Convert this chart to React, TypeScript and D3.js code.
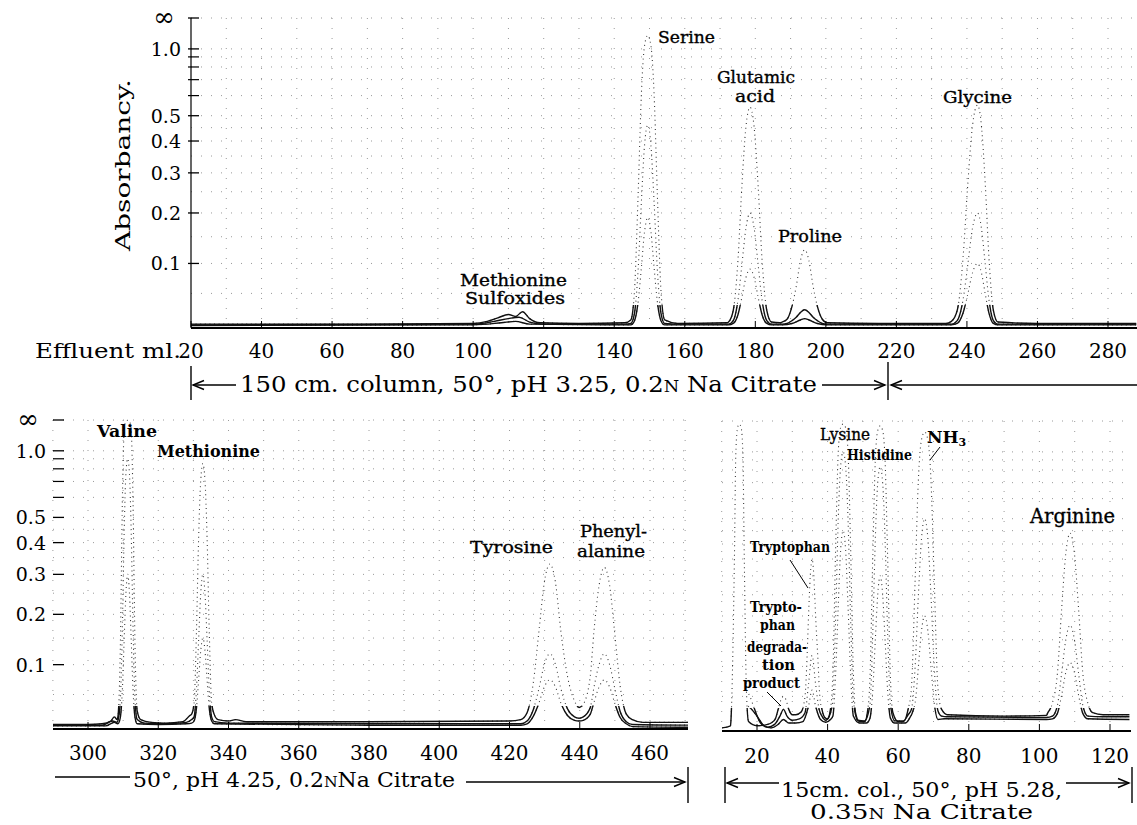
import React from 'react';
import * as d3 from 'd3';

type Pt = [number, number];

const FONT = '"DejaVu Serif", serif';

// effluent ml tick labels for each run
const topTicks = [20, 40, 60, 80, 100, 120, 140, 160, 180, 200, 220, 240, 260, 280];
const leftTicks = [300, 320, 340, 360, 380, 400, 420, 440, 460];
const rightTicks = [20, 40, 60, 80, 100, 120];

// absorbancy scale (recorder is linear in transmittance)
const absLabels = [1.0, 0.5, 0.4, 0.3, 0.2, 0.1];
const absMinor = [0.6, 0.7, 0.8, 0.9];
const absGrid = [0.05, 0.1, 0.15, 0.2, 0.25, 0.3, 0.35, 0.4, 0.45, 0.5, 0.6, 0.7, 0.8, 0.9, 1.0];

// 150 cm column, pH 3.25 -- three recorder traces, [ml, absorbancy]
const topHigh: Pt[] = [
  [20, 0.004], [60, 0.004], [100, 0.005], [104, 0.008], [107, 0.013], [110, 0.018], [112, 0.015], [114, 0.022],
  [116, 0.012], [119, 0.006], [130, 0.005], [143, 0.006],
  [144.7, 0.01], [145.75, 0.055], [146.8, 0.25], [147.7, 0.61], [148.6, 1.05], [149.5, 1.25], [150.4, 1.05],
  [151.3, 0.61], [152.2, 0.25], [153.25, 0.055], [154.3, 0.01], [158, 0.005], [172, 0.006],
  [172.4, 0.007], [173.75, 0.024], [175.1, 0.108], [176.2, 0.265], [177.35, 0.454], [178.5, 0.54], [179.65, 0.454],
  [180.8, 0.265], [181.9, 0.108], [183.25, 0.024], [184.6, 0.007], [187, 0.006],
  [187.6, 0.007], [189, 0.011], [190.4, 0.03], [191.6, 0.061], [192.8, 0.105], [194, 0.125], [195.2, 0.105],
  [196.4, 0.061], [197.6, 0.03], [199, 0.011], [200.4, 0.006], [215, 0.005], [234, 0.005],
  [235.6, 0.008], [237.25, 0.024], [238.9, 0.11], [240.25, 0.27], [241.6, 0.46], [243, 0.55], [244.1, 0.46],
  [245.2, 0.27], [246.25, 0.11], [247.5, 0.024], [248.8, 0.007], [260, 0.005], [288, 0.005],
];
const topMid: Pt[] = [
  [20, 0.003], [100, 0.004], [106, 0.008], [110, 0.012], [113, 0.014], [116, 0.007], [120, 0.004], [143, 0.004],
  [144.7, 0.005], [145.75, 0.02], [146.8, 0.092], [147.7, 0.225], [148.6, 0.386], [149.5, 0.46], [150.4, 0.386],
  [151.3, 0.225], [152.2, 0.092], [153.25, 0.02], [154.3, 0.005], [158, 0.004], [172, 0.004],
  [172.4, 0.004], [173.75, 0.009], [175.1, 0.04], [176.2, 0.098], [177.35, 0.168], [178.5, 0.2], [179.65, 0.168],
  [180.8, 0.098], [181.9, 0.04], [183.25, 0.009], [184.6, 0.004], [187, 0.004],
  [187.6, 0.004], [189, 0.005], [190.4, 0.009], [191.6, 0.014], [192.8, 0.021], [194, 0.025], [195.2, 0.021],
  [196.4, 0.014], [197.6, 0.009], [199, 0.005], [200.4, 0.004], [234, 0.004],
  [235.6, 0.004], [237.25, 0.009], [238.9, 0.04], [240.25, 0.098], [241.6, 0.168], [243, 0.2], [244.1, 0.168],
  [245.2, 0.098], [246.25, 0.04], [247.5, 0.009], [248.8, 0.004], [288, 0.004],
];
const topLow: Pt[] = [
  [20, 0.002], [100, 0.003], [108, 0.006], [112, 0.008], [116, 0.004], [143, 0.003],
  [144.7, 0.003], [145.75, 0.009], [146.8, 0.038], [147.7, 0.093], [148.6, 0.16], [149.5, 0.19], [150.4, 0.16],
  [151.3, 0.093], [152.2, 0.038], [153.25, 0.009], [154.3, 0.003], [172, 0.003],
  [172.4, 0.003], [173.75, 0.005], [175.1, 0.018], [176.2, 0.044], [177.35, 0.076], [178.5, 0.09], [179.65, 0.076],
  [180.8, 0.044], [181.9, 0.018], [183.25, 0.005], [184.6, 0.003],
  [187.6, 0.003], [190.4, 0.005], [192.8, 0.01], [194, 0.012], [195.2, 0.01], [197.6, 0.005], [200.4, 0.003],
  [235.6, 0.003], [237.25, 0.005], [238.9, 0.02], [240.25, 0.049], [241.6, 0.084], [243, 0.1], [244.1, 0.084],
  [245.2, 0.049], [246.25, 0.02], [247.5, 0.005], [248.8, 0.003], [288, 0.003],
];

// pH 4.25 continuation
const leftHigh: Pt[] = [
  [290, 0.005], [300, 0.005], [304, 0.006], [306.5, 0.01], [307.5, 0.016], [308.3, 0.012],
  [308.6, 0.02], [309.2, 0.13], [309.8, 0.6], [310.3, 1.47], [310.8, 2.52], [311.3, 3.0], [311.8, 2.52],
  [312.3, 1.47], [312.8, 0.6], [313.4, 0.13], [314, 0.025],
  [315, 0.012], [318, 0.008], [322, 0.007], [327, 0.009], [329, 0.018],
  [329.5, 0.02], [330.2, 0.037], [330.9, 0.17], [331.5, 0.42], [332.1, 0.71], [332.7, 0.85], [333.3, 0.71],
  [333.9, 0.42], [334.5, 0.17], [335.2, 0.037], [335.9, 0.02],
  [337, 0.012], [340, 0.01], [342, 0.012], [345, 0.009], [380, 0.009], [420, 0.01],
  [423.2, 0.012], [425, 0.022], [426.8, 0.07], [428.4, 0.165], [429.9, 0.277], [431.5, 0.33], [433.1, 0.277],
  [434.6, 0.165], [436.5, 0.08], [438.5, 0.04], [439.8, 0.03],
  [441, 0.035], [443, 0.08], [444, 0.16], [445.5, 0.27], [447, 0.32], [448.5, 0.27], [450, 0.157],
  [451.5, 0.064], [453.25, 0.02], [455, 0.012], [458, 0.008], [471, 0.008],
];
const leftMid: Pt[] = [
  [290, 0.004], [304, 0.004], [307, 0.01], [308.3, 0.008],
  [308.6, 0.012], [309.2, 0.04], [309.8, 0.18], [310.3, 0.44], [310.8, 0.76], [311.3, 0.9], [311.8, 0.76],
  [312.3, 0.44], [312.8, 0.18], [313.4, 0.04], [314, 0.012],
  [316, 0.007], [322, 0.006], [328, 0.008], [329.5, 0.012],
  [330.2, 0.016], [330.9, 0.06], [331.5, 0.147], [332.1, 0.25], [332.7, 0.3], [333.3, 0.25], [333.9, 0.147],
  [334.5, 0.06], [335.2, 0.016], [336, 0.009], [340, 0.007], [380, 0.006], [420, 0.006],
  [423.2, 0.006], [425, 0.01], [426.8, 0.027], [428.4, 0.06], [429.9, 0.1], [431.5, 0.12], [433.1, 0.1],
  [434.6, 0.06], [436.5, 0.028], [438.5, 0.016], [439.8, 0.014],
  [441, 0.016], [443, 0.03], [444, 0.06], [445.5, 0.1], [447, 0.12], [448.5, 0.1], [450, 0.059],
  [451.5, 0.024], [453.25, 0.009], [455, 0.005], [471, 0.004],
];
const leftLow: Pt[] = [
  [290, 0.003], [305, 0.003], [307.5, 0.008], [308.5, 0.006],
  [309.2, 0.015], [309.8, 0.06], [310.3, 0.147], [310.8, 0.25], [311.3, 0.3], [311.8, 0.25], [312.3, 0.147],
  [312.8, 0.06], [313.4, 0.015], [314, 0.006], [320, 0.005], [328, 0.006],
  [329.5, 0.007], [330.2, 0.01], [330.9, 0.03], [331.5, 0.074], [332.1, 0.126], [332.7, 0.15], [333.3, 0.126],
  [333.9, 0.074], [334.5, 0.03], [335.2, 0.01], [336, 0.006], [380, 0.004], [420, 0.004],
  [423.2, 0.004], [425, 0.006], [426.8, 0.017], [428.4, 0.037], [429.9, 0.062], [431.5, 0.074], [433.1, 0.062],
  [434.6, 0.037], [436.5, 0.018], [438.5, 0.011], [439.8, 0.01],
  [441, 0.011], [443, 0.02], [444, 0.037], [445.5, 0.062], [447, 0.074], [448.5, 0.062], [450, 0.036],
  [451.5, 0.015], [453.25, 0.006], [455, 0.002], [471, 0.001],
];

// 15 cm column, pH 5.28
const rightHigh: Pt[] = [
  [10, 0.003], [12.5, 0.006], [12.6, 0.012], [13.6, 0.35], [14, 0.98], [14.5, 1.68], [15, 2.0], [15.5, 1.68],
  [16, 0.98], [16.4, 0.35], [17, 0.06], [17.6, 0.012], [20, 0.006], [23, 0.008],
  [24, 0.01], [25.2, 0.016], [26, 0.03], [26.8, 0.045], [27.5, 0.05], [28.2, 0.045], [29, 0.03], [30, 0.022],
  [31, 0.022], [32.5, 0.026],
  [33.6, 0.05], [34.2, 0.12], [34.6, 0.2], [35.1, 0.3], [35.6, 0.35], [36.1, 0.3], [36.6, 0.2], [37.2, 0.12],
  [37.8, 0.05], [38.4, 0.03], [39.2, 0.018], [40, 0.016], [40.8, 0.03],
  [41.5, 0.09], [42.3, 0.4], [43, 0.98], [43.7, 1.68], [44.4, 2.0], [45.1, 1.68], [45.8, 0.98], [46.5, 0.4],
  [47.3, 0.09], [47.9, 0.025], [49, 0.012], [50.5, 0.012], [51.4, 0.03],
  [52, 0.08], [52.8, 0.36], [53.5, 0.88], [54.2, 1.51], [54.9, 1.8], [55.6, 1.51], [56.3, 0.88], [57, 0.36],
  [57.8, 0.08], [58.5, 0.025], [60, 0.012], [61.5, 0.012], [62.8, 0.03],
  [63.75, 0.064], [64.8, 0.29], [65.7, 0.71], [66.6, 1.22], [67.5, 1.45], [68.4, 1.22], [69.3, 0.71],
  [70.2, 0.29], [71.25, 0.064], [72.3, 0.03], [74, 0.022], [90, 0.02], [102, 0.021],
  [102.3, 0.024], [103.7, 0.04], [105.1, 0.088], [106.3, 0.216], [107.5, 0.37], [108.7, 0.44], [109.9, 0.37],
  [111.1, 0.216], [112.3, 0.088], [113.7, 0.04], [115.1, 0.025], [118, 0.022], [125.5, 0.022],
];
const rightMid: Pt[] = [
  [17, 0.06], [18, 0.05], [19, 0.035], [21, 0.01], [23, 0.004],
  [25, 0.008], [26.5, 0.02], [27.5, 0.03], [28.5, 0.02], [30, 0.014], [32, 0.016],
  [33.6, 0.025], [34.6, 0.07], [35.6, 0.12], [36.6, 0.07], [37.6, 0.03], [38.4, 0.02], [39.5, 0.014], [40.5, 0.02],
  [41.5, 0.045], [42.3, 0.2], [43, 0.49], [43.7, 0.84], [44.4, 1.0], [45.1, 0.84], [45.8, 0.49], [46.5, 0.2],
  [47.3, 0.045], [48.5, 0.014], [50.5, 0.013],
  [52, 0.037], [52.8, 0.166], [53.5, 0.41], [54.2, 0.7], [54.9, 0.83], [55.6, 0.7], [56.3, 0.41], [57, 0.166],
  [57.8, 0.037], [59, 0.013], [61.5, 0.013], [62.8, 0.022],
  [63.75, 0.03], [64.8, 0.1], [65.7, 0.245], [66.6, 0.42], [67.5, 0.5], [68.4, 0.42], [69.3, 0.245], [70.2, 0.1],
  [71.25, 0.028], [72.3, 0.02], [74, 0.019], [102, 0.018],
  [103.7, 0.02], [105.1, 0.036], [106.3, 0.088], [107.5, 0.151], [108.7, 0.18], [109.9, 0.151], [111.1, 0.088],
  [112.3, 0.036], [113.7, 0.02], [118, 0.019], [125.5, 0.019],
];
const rightLow: Pt[] = [
  [17.5, 0.035], [18.5, 0.03], [20, 0.02], [22, 0.006], [24, 0.003],
  [26, 0.008], [27.5, 0.015], [29, 0.01], [31, 0.01], [33, 0.012],
  [34.6, 0.035], [35.6, 0.06], [36.6, 0.035], [38, 0.015], [39.5, 0.011], [40.8, 0.015],
  [41.5, 0.02], [42.3, 0.09], [43, 0.22], [43.7, 0.38], [44.4, 0.45], [45.1, 0.38], [45.8, 0.22], [46.5, 0.09],
  [47.3, 0.02], [49, 0.01], [51, 0.01], [52, 0.017],
  [52.8, 0.06], [53.5, 0.147], [54.2, 0.25], [54.9, 0.3], [55.6, 0.25], [56.3, 0.147], [57, 0.06], [57.8, 0.017],
  [59, 0.01], [62, 0.01], [63, 0.015],
  [64.8, 0.04], [65.7, 0.098], [66.6, 0.168], [67.5, 0.2], [68.4, 0.168], [69.3, 0.098], [70.2, 0.04],
  [71.25, 0.015], [73, 0.016], [102, 0.015],
  [103.7, 0.016], [105.1, 0.024], [106.3, 0.052], [107.5, 0.09], [108.7, 0.107], [109.9, 0.09], [111.1, 0.052],
  [112.3, 0.024], [113.7, 0.016], [125.5, 0.015],
];

type PanelProps = {
  id: string;
  domain: [number, number];
  range: [number, number];
  left: number;
  right: number;
  top: number;
  base: number;
  gridFrom: number;
  gridTo: number;
  ticks: number[];
  labelY: number;
  traces: Pt[][];
  axis?: { line: boolean; x1: number; x2: number; labelX: number; infX: number };
};

function Panel(p: PanelProps) {
  const x = d3.scaleLinear().domain(p.domain).range(p.range);
  const t = d3.scaleLinear().domain([0, 1]).range([p.top, p.base]);
  const y = (a: number) => t(Math.pow(10, -a));
  const line = d3
    .line<Pt>()
    .x((d) => x(d[0]))
    .y((d) => y(d[1]))
    .curve(d3.curveMonotoneX);
  const vgrid = d3.range(p.gridFrom, p.gridTo + 1, 10);
  const gridStyle = { stroke: '#9a9a9a', strokeWidth: 1, strokeDasharray: '1 9' };

  return (
    <g>
      <clipPath id={`${p.id}-band`}>
        <rect x={p.left} y={p.base - 22} width={p.right - p.left} height={28} />
      </clipPath>
      <clipPath id={`${p.id}-area`}>
        <rect x={p.left} y={p.top - 4} width={p.right - p.left} height={p.base - p.top + 10} />
      </clipPath>

      {vgrid.map((v) => (
        <line key={`v${v}`} x1={x(v)} x2={x(v)} y1={p.top} y2={p.base} {...gridStyle} />
      ))}
      {absGrid.map((a) => (
        <line key={`h${a}`} x1={p.left} x2={p.right} y1={y(a)} y2={y(a)} {...gridStyle} />
      ))}
      <line x1={p.left} x2={p.right} y1={p.top} y2={p.top} {...gridStyle} />

      <g clipPath={`url(#${p.id}-area)`}>
        {p.traces.map((tr, i) => (
          <path key={`d${i}`} d={line(tr) || ''} fill="none" stroke="#3a3a3a" strokeWidth={1.1} strokeDasharray="1 3.6" />
        ))}
      </g>
      <g clipPath={`url(#${p.id}-band)`}>
        {p.traces.map((tr, i) => (
          <path key={`s${i}`} d={line(tr) || ''} fill="none" stroke="#111" strokeWidth={1.4} />
        ))}
      </g>

      <line x1={p.left} x2={p.right} y1={p.base + 1} y2={p.base + 1} stroke="#000" strokeWidth={2.2} />
      {p.ticks.map((v) => (
        <g key={`t${v}`}>
          <line x1={x(v)} x2={x(v)} y1={p.base - 6} y2={p.base + 1} stroke="#000" strokeWidth={1} />
          <text x={x(v)} y={p.labelY} textAnchor="middle" fontFamily={FONT} fontSize={20}>
            {v}
          </text>
        </g>
      ))}

      {p.axis && (
        <g fontFamily={FONT}>
          {p.axis.line && <line x1={p.left} x2={p.left} y1={p.top} y2={p.base} stroke="#000" strokeWidth={1.2} />}
          <line x1={p.axis.x1} x2={p.axis.x2} y1={p.top} y2={p.top} stroke="#000" strokeWidth={1.3} />
          <text x={p.axis.infX} y={p.top + 8} textAnchor="middle" fontSize={26}>
            ∞
          </text>
          {absMinor.map((a) => (
            <line key={`m${a}`} x1={p.axis!.x1} x2={p.axis!.x2} y1={y(a)} y2={y(a)} stroke="#000" strokeWidth={1.2} />
          ))}
          {absLabels.map((a) => (
            <g key={`a${a}`}>
              <line x1={p.axis!.x1} x2={p.axis!.x2} y1={y(a)} y2={y(a)} stroke="#000" strokeWidth={1.3} />
              <text x={p.axis!.labelX} y={y(a) + 7} textAnchor="end" fontSize={19}>
                {a.toFixed(1)}
              </text>
            </g>
          ))}
        </g>
      )}
    </g>
  );
}

function Arrow({ x1, x2, y }: { x1: number; x2: number; y: number }) {
  // head sits at x2
  const dir = x2 > x1 ? -1 : 1;
  return (
    <g stroke="#000" strokeWidth={1.4} fill="none">
      <line x1={x1} x2={x2} y1={y} y2={y} />
      <polyline points={`${x2 + dir * 11},${y - 4.5} ${x2},${y} ${x2 + dir * 11},${y + 4.5}`} />
    </g>
  );
}

const Lbl = ({ x, y, len, size = 17, bold = false, children }: any) => (
  <text
    x={x}
    y={y}
    fontFamily={FONT}
    fontSize={size}
    fontWeight={bold ? 'bold' : 'normal'}
    stroke={bold ? 'none' : '#000'}
    strokeWidth={0.35}
    textLength={len}
    lengthAdjust="spacingAndGlyphs"
  >
    {children}
  </text>
);

export default function App() {
  return (
    <svg width={1137} height={825} style={{ position: 'absolute', left: 0, top: 0, background: '#fff' }}>
      <rect width={1137} height={825} fill="#fff" />

      <Panel
        id="top"
        domain={[20, 280]}
        range={[191, 1108]}
        left={191}
        right={1137}
        top={18}
        base={327}
        gridFrom={30}
        gridTo={280}
        ticks={topTicks}
        labelY={358}
        traces={[topHigh, topMid, topLow]}
        axis={{ line: true, x1: 188, x2: 199, labelX: 181, infX: 164 }}
      />
      <Panel
        id="left"
        domain={[300, 460]}
        range={[88, 650]}
        left={53}
        right={688}
        top={420}
        base={728}
        gridFrom={290}
        gridTo={470}
        ticks={leftTicks}
        labelY={760}
        traces={[leftHigh, leftMid, leftLow]}
        axis={{ line: false, x1: 53, x2: 64, labelX: 46, infX: 28 }}
      />
      <Panel
        id="right"
        domain={[20, 120]}
        range={[757, 1110]}
        left={722}
        right={1131}
        top={421}
        base={730}
        gridFrom={10}
        gridTo={120}
        ticks={rightTicks}
        labelY={763}
        traces={[rightHigh, rightMid, rightLow]}
      />

      {/* axis titles */}
      <text transform="translate(130,165) rotate(-90)" textAnchor="middle" fontFamily={FONT} fontSize={21} textLength={172} lengthAdjust="spacingAndGlyphs">
        Absorbancy.
      </text>
      <text x={181} y={358} textAnchor="end" fontFamily={FONT} fontSize={21} textLength={146} lengthAdjust="spacingAndGlyphs">
        Effluent ml.
      </text>

      {/* top peak names */}
      <Lbl x={460} y={286} len={107}>Methionine</Lbl>
      <Lbl x={465} y={304} len={100}>Sulfoxides</Lbl>
      <Lbl x={658} y={43} len={57}>Serine</Lbl>
      <Lbl x={717} y={83} len={78}>Glutamic</Lbl>
      <Lbl x={735} y={102} len={40}>acid</Lbl>
      <Lbl x={778} y={242} len={64}>Proline</Lbl>
      <Lbl x={943} y={103} len={69}>Glycine</Lbl>

      {/* pH 4.25 peak names */}
      <Lbl x={97} y={437} len={60} bold>Valine</Lbl>
      <Lbl x={157} y={457} len={103} bold>Methionine</Lbl>
      <Lbl x={470} y={553} len={83}>Tyrosine</Lbl>
      <Lbl x={580} y={537} len={67} size={16}>Phenyl-</Lbl>
      <Lbl x={577} y={557} len={68} size={16}>alanine</Lbl>

      {/* pH 5.28 peak names */}
      <Lbl x={820} y={440} len={50}>Lysine</Lbl>
      <Lbl x={847} y={460} len={65} size={15} bold>Histidine</Lbl>
      <text x={927} y={443} fontFamily={FONT} fontSize={17} fontWeight="bold">
        NH<tspan fontSize={11} dy={3}>3</tspan>
      </text>
      <Lbl x={1030} y={523} len={85} size={20}>Arginine</Lbl>
      <Lbl x={750} y={552} len={80} size={14} bold>Tryptophan</Lbl>
      <Lbl x={750} y={612} len={52} size={14} bold>Trypto-</Lbl>
      <Lbl x={760} y={630} len={35} size={14} bold>phan</Lbl>
      <Lbl x={747} y={652} len={60} size={14} bold>degrada-</Lbl>
      <Lbl x={762} y={670} len={33} size={14} bold>tion</Lbl>
      <Lbl x={743} y={688} len={57} size={14} bold>product</Lbl>
      <g stroke="#000" strokeWidth={1}>
        <line x1={790} y1={560} x2={808} y2={588} />
        <line x1={767} y1={692} x2={781} y2={706} />
        <line x1={930} y1={460} x2={940} y2={447} />
      </g>

      {/* elution conditions */}
      <g stroke="#000" strokeWidth={1.4}>
        <line x1={191} x2={191} y1={366} y2={400} />
        <line x1={888} x2={888} y1={362} y2={400} />
        <line x1={688} x2={688} y1={767} y2={803} />
        <line x1={725} x2={725} y1={767} y2={803} />
        <line x1={1132} x2={1132} y1={767} y2={803} />
      </g>
      <Arrow x1={236} x2={193} y={385} />
      <Arrow x1={822} x2={885} y={385} />
      <Arrow x1={1137} x2={891} y={385} />
      <text x={240} y={392} fontFamily={FONT} fontSize={22} textLength={577} lengthAdjust="spacingAndGlyphs">
        150 cm. column, 50°, pH 3.25, 0.2<tspan fontSize={16}>N</tspan> Na Citrate
      </text>

      <line x1={55} x2={130} y1={777} y2={777} stroke="#000" strokeWidth={1.4} />
      <text x={133} y={787} fontFamily={FONT} fontSize={21} textLength={322} lengthAdjust="spacingAndGlyphs">
        50°, pH 4.25, 0.2<tspan fontSize={15}>N</tspan>Na Citrate
      </text>
      <Arrow x1={466} x2={685} y={782} />

      <Arrow x1={779} x2={727} y={783} />
      <text x={781} y={797} fontFamily={FONT} fontSize={21} textLength={281} lengthAdjust="spacingAndGlyphs">
        15cm. col., 50°, pH 5.28,
      </text>
      <Arrow x1={1066} x2={1129} y={783} />
      <text x={810} y={819} fontFamily={FONT} fontSize={20} textLength={223} lengthAdjust="spacingAndGlyphs">
        0.35<tspan fontSize={14}>N</tspan> Na Citrate
      </text>
    </svg>
  );
}
